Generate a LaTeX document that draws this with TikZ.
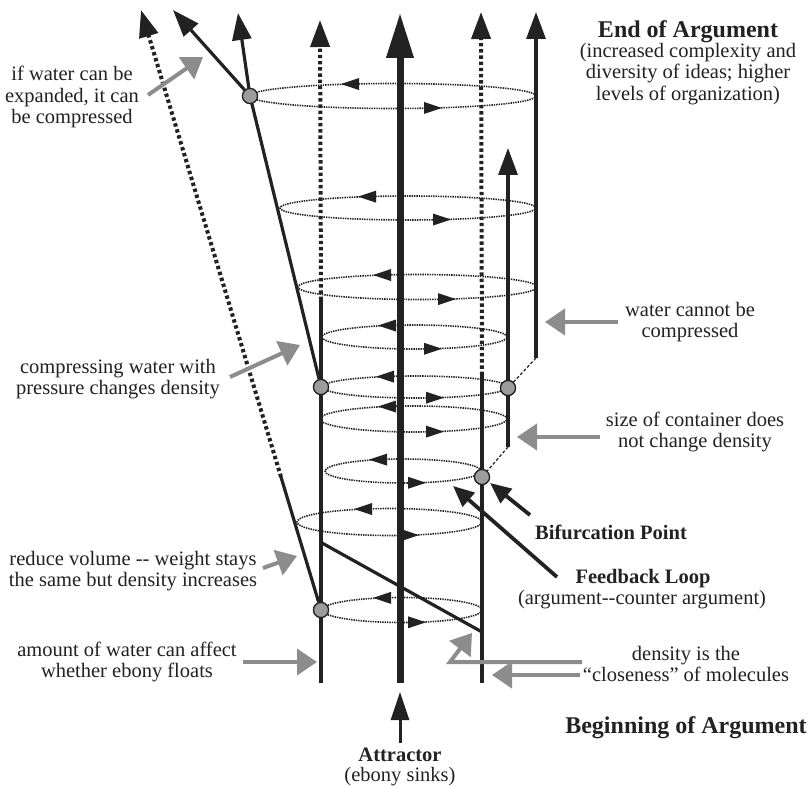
\documentclass[tikz,border=0pt]{standalone}
\usepackage{fontspec}
\setmainfont{Liberation Serif}
\usetikzlibrary{arrows.meta}
\definecolor{ink}{HTML}{222222}
\definecolor{callgray}{HTML}{8C8C8C}
\definecolor{nodegray}{HTML}{9C9C9C}
\begin{document}
\begin{tikzpicture}[x=1pt,y=-1pt,
  mainline/.style={draw=ink, line width=7pt, -{Triangle[length=45pt,width=26pt]}},
  solidline/.style={draw=ink, line width=3.2pt},
  tipthin/.style={-{Triangle[length=27pt,width=19pt]}},
  dotline/.style={draw=ink, line width=4pt, dash pattern=on 3.4pt off 2.8pt},
  loopline/.style={draw=ink, line width=1.6pt, dash pattern=on 1.4pt off 1pt},
  hub/.style={circle, draw=ink, fill=nodegray, line width=1.2pt, minimum size=15pt, inner sep=0pt},
  callout/.style={draw=callgray, line width=4pt, -{Triangle[length=20pt,width=26pt]}},
  pointer/.style={draw=ink, line width=3.8pt, -{Triangle[length=21pt,width=18pt]}},
  joinline/.style={draw=ink, line width=1.2pt, dash pattern=on 3pt off 2pt},
  lbl/.style={text=ink, font=\fontsize{20.5}{21.5}\selectfont, align=center, inner sep=0pt},
  bigtitle/.style={text=ink, font=\bfseries\fontsize{24}{26}\selectfont, align=center, inner sep=0pt},
  blbl/.style={text=ink, font=\bfseries\fontsize{20.5}{21.5}\selectfont, align=center, inner sep=0pt}
]
\useasboundingbox[fill=white] (0,0) rectangle (812,786);

% feedback loops (dotted ellipses)
\foreach \L/\R/\yc/\ry in {250/536/96/12.5, 280/536/208/12, 298/537/287/12.5, 322/507/337/12, 322/508/387/11, 320/507/419/13, 325/481/471/12, 297/482/522/13.5, 322/482/610/12.5}{
  \pgfmathsetmacro\cx{(\L+\R)/2}
  \pgfmathsetmacro\rx{(\R-\L)/2}
  \draw[loopline] (\cx,\yc) ellipse [x radius=\rx pt, y radius=\ry pt];
}

% key coordinates
\coordinate (ctop) at (400,13);
\coordinate (cbot) at (400,683);
\node[hub] (c1) at (250,96) {};
\node[hub] (c2) at (321,387) {};
\node[hub] (c3) at (321,610) {};
\node[hub] (c4) at (508,388) {};
\node[hub] (c5) at (482,477) {};

% central attractor line
\draw[mainline] (cbot) -- (ctop);

% left vertical
\coordinate (lvb) at (321,683);
\coordinate (lvm) at (321,300);
\coordinate (lvt) at (320,20);
\draw[solidline] (lvb) -- (lvm);
\draw[dotline, tipthin] (lvm) -- (lvt);

% right vertical
\coordinate (rvb) at (482,683);
\coordinate (rvm) at (482,375);
\coordinate (rvt) at (481,12);
\draw[solidline] (rvb) -- (rvm);
\draw[dotline, tipthin] (rvm) -- (rvt);

% far right and second right
\coordinate (frb) at (536,358);
\coordinate (frt) at (536,12);
\draw[solidline, tipthin] (frb) -- (frt);
\coordinate (srb) at (508,447);
\coordinate (srt) at (508,148);
\draw[solidline, tipthin] (srb) -- (srt);
\draw[joinline] (frb) -- (c4);
\draw[joinline] (srb) -- (c5);

% slanted branches
\coordinate (b1) at (173,10);
\coordinate (b2) at (238,13);
\draw[solidline] (c2) -- (c1);
\draw[solidline, tipthin] (c1) -- (b1);
\draw[solidline, tipthin] (c1) -- (b2);
\coordinate (sbrk) at (281,477);
\coordinate (stop) at (141,10);
\draw[solidline] (c3) -- (sbrk);
\draw[dotline, tipthin] (sbrk) -- (stop);

% diagonal
\coordinate (d1) at (322,543);
\coordinate (d2) at (482,632);
\draw[solidline] (d1) -- (d2);

% loop direction arrowheads
\foreach \L/\R/\yc/\ry/\xa/\xb in {250/536/96/12.5/350/433, 280/536/208/12/367/442, 298/537/287/12.5/382/447, 322/507/337/12/387/433, 322/508/387/11/385/435, 320/507/419/13/387/435, 325/481/471/12/378/417, 297/482/522/13.5/363/410, 322/482/610/12.5/382/417}{
  \pgfmathsetmacro\cx{(\L+\R)/2}
  \pgfmathsetmacro\rx{(\R-\L)/2}
  \pgfmathsetmacro\ya{\yc-\ry*sqrt(1-((\xa-\cx)/\rx)^2)}
  \pgfmathsetmacro\yb{\yc+\ry*sqrt(1-((\xb-\cx)/\rx)^2)}
  \fill[ink] (\xa-9,\ya) -- (\xa+9,\ya-6) -- (\xa+9,\ya+6) -- cycle;
  \fill[ink] (\xb+9,\yb) -- (\xb-9,\yb-6) -- (\xb-9,\yb+6) -- cycle;
}

% redraw hubs on top
\foreach \h in {c1,c2,c3,c4,c5}{\node[hub] at (\h) {};}

% labels
\node[bigtitle] (tend) at (688,32) {End of Argument};
\node[lbl] (tendsub) at (688,74) {(increased complexity and\\diversity of ideas; higher\\levels of organization)};
\node[lbl] (texp) at (72,97) {if water can be\\expanded, it can\\be compressed};
\node[lbl] (tcomp) at (118,379) {compressing water with\\pressure changes density};
\node[lbl] (tred) at (133,571) {reduce volume {-}{-} weight stays\\the same but density increases};
\node[lbl] (tamt) at (127,662) {amount of water can affect\\whether ebony floats};
\node[lbl] (tcan) at (690,322) {water cannot be\\compressed};
\node[lbl] (tsize) at (695,432) {size of container does\\not change density};
\node[blbl] (tbif) at (611,532) {Bifurcation Point};
\node[blbl] (tfeed) at (643,579) {Feedback Loop};
\node[lbl] (tfeedsub) at (642,600) {(argument{-}{-}counter argument)};
\node[lbl] (tdens) at (686,664) {density is the\\“closeness” of molecules};
\node[bigtitle] (tbeg) at (686,728) {Beginning of Argument};
\node[blbl] (tattr) at (400,755) {Attractor};
\node[lbl] (tattrsub) at (400,777) {(ebony sinks)};

% gray callouts
\coordinate (e0) at (148,95); \coordinate (e1) at (203,57);
\draw[callout] (e0) -- (e1);
\coordinate (p0) at (230,377); \coordinate (p1) at (300,345);
\draw[callout] (p0) -- (p1);
\coordinate (r0) at (263,568); \coordinate (r1) at (297,556);
\draw[callout] (r0) -- (r1);
\coordinate (a0) at (243,662); \coordinate (a1) at (317,662);
\draw[callout] (a0) -- (a1);
\coordinate (w0) at (618,322); \coordinate (w1) at (545,322);
\draw[callout] (w0) -- (w1);
\coordinate (s0) at (600,437); \coordinate (s1) at (517,437);
\draw[callout] (s0) -- (s1);
\coordinate (da0) at (582,662); \coordinate (dak) at (450,662); \coordinate (da1) at (472,633);
\draw[callout] (da0) -- (dak) -- (da1);
\coordinate (db0) at (580,675); \coordinate (db1) at (492,675);
\draw[callout] (db0) -- (db1);

% black pointers
\coordinate (bf0) at (530,515); \coordinate (bf1) at (490,483);
\draw[pointer] (bf0) -- (bf1);
\coordinate (fl0) at (557,577); \coordinate (fl1) at (453,486);
\draw[pointer] (fl0) -- (fl1);
\coordinate (at0) at (400,743); \coordinate (at1) at (400,692);
\draw[draw=ink, line width=3pt, -{Triangle[length=28pt,width=18pt]}] (at0) -- (at1);
\end{tikzpicture}
\end{document}
